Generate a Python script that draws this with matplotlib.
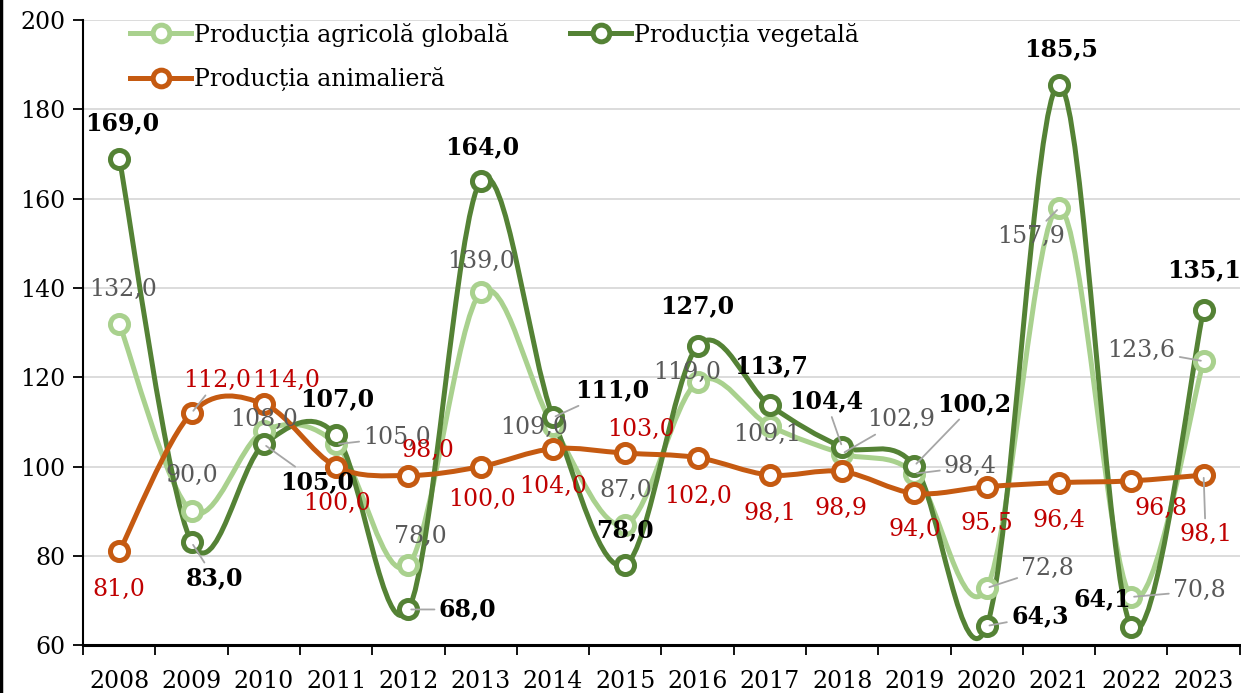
import numpy as np
import matplotlib
matplotlib.use('Agg')
import matplotlib.pyplot as plt
from matplotlib.path import Path
from matplotlib.patches import PathPatch
from matplotlib.lines import Line2D

plt.rcParams['font.family'] = ['DejaVu Serif']

ani = ['2008', '2009', '2010', '2011', '2012', '2013', '2014', '2015',
       '2016', '2017', '2018', '2019', '2020', '2021', '2022', '2023']
globala = [132.0, 90.0, 108.0, 105.0, 78.0, 139.0, 109.0, 87.0,
           119.0, 109.1, 102.9, 98.4, 72.8, 157.9, 70.8, 123.6]
vegetala = [169.0, 83.0, 105.0, 107.0, 68.0, 164.0, 111.0, 78.0,
            127.0, 113.7, 104.4, 100.2, 64.3, 185.5, 64.1, 135.1]
animaliera = [81.0, 112.0, 114.0, 100.0, 98.0, 100.0, 104.0, 103.0,
              102.0, 98.1, 98.9, 94.0, 95.5, 96.4, 96.8, 98.1]

# pozitiile etichetelor (pixeli fata de punct) si daca au linie de legatura
off_glob = [(4, 34), (0, 36), (0, 11), (61, 7), (12, 28), (0, 31), (-19, -1), (0, 34),
            (-10, 9), (-3, -9), (59, 34), (56, 7), (61, 20), (-28, -28), (68, 6), (-62, 11)]
lead_glob = [3, 10, 11, 12, 13, 14, 15]
off_veg = [(3, 35), (23, -36), (53, -38), (1, 36), (59, 0), (1, 34), (59, 27), (0, 35),
           (0, 40), (1, 39), (-16, 46), (60, 62), (53, 10), (2, 36), (-29, 28), (0, 40)]
lead_veg = [1, 2, 4, 6, 10, 11, 12]
off_anim = [(0, -38), (26, 33), (22, 24), (1, -37), (19, 25), (1, -33), (0, -38), (16, 24),
            (0, -39), (0, -38), (-1, -37), (0, -36), (0, -37), (0, -38), (30, -28), (2, -59)]
lead_anim = [1, 15]


def linie_neteda(ax, y, culoare, lw):
    # curba Bezier in stilul Excel (smooth line)
    x = np.arange(len(y), dtype=float)
    y = np.asarray(y, dtype=float)
    pts = np.column_stack([x, y])
    verts = [pts[0]]
    codes = [Path.MOVETO]
    n = len(pts)
    for i in range(n - 1):
        p0 = pts[i - 1] if i > 0 else pts[i]
        p1 = pts[i]
        p2 = pts[i + 1]
        p3 = pts[i + 2] if i + 2 < n else pts[i + 1]
        c1 = p1 + (p2 - p0) / 6
        c2 = p2 - (p3 - p1) / 6
        verts += [c1, c2, p2]
        codes += [Path.CURVE4] * 3
    patch = PathPatch(Path(verts, codes), facecolor='none', edgecolor=culoare,
                      lw=lw, capstyle='round', joinstyle='round', zorder=3)
    ax.add_patch(patch)


fig = plt.figure(figsize=(12.41, 6.93), dpi=100)
ax = fig.add_axes([0.067, 0.069, 0.932, 0.902])

serii = [
    (globala, '#A9D18E', off_glob, lead_glob, '#595959', 'normal', 'Producția agricolă globală'),
    (vegetala, '#548235', off_veg, lead_veg, 'black', 'bold', 'Producția vegetală'),
    (animaliera, '#C55A11', off_anim, lead_anim, '#C00000', 'normal', 'Producția animalieră'),
]

x = np.arange(len(ani))
handles = []
for valori, culoare, offs, leads, cul_text, greutate, nume in serii:
    linie_neteda(ax, valori, culoare, 3.6)
    ax.plot(x, valori, linestyle='none', marker='o', markersize=13,
            markerfacecolor='white', markeredgecolor=culoare, markeredgewidth=3.6, zorder=4)
    handles.append(Line2D([0], [0], color=culoare, lw=3.6, marker='o', markersize=12,
                          markerfacecolor='white', markeredgecolor=culoare,
                          markeredgewidth=3.6, label=nume))
    for i, v in enumerate(valori):
        eticheta = f'{v:.1f}'.replace('.', ',')
        kw = {}
        if i in leads:
            kw['arrowprops'] = dict(arrowstyle='-', color='#A6A6A6', lw=1.3,
                                    shrinkA=1, shrinkB=2)
        ax.annotate(eticheta, (i, v), xytext=offs[i], textcoords='offset pixels',
                    ha='center', va='center', fontsize=17, color=cul_text,
                    fontweight=greutate, zorder=6, **kw)

ax.set_xlim(-0.5, len(ani) - 0.5)
ax.set_ylim(60, 200)
ax.set_yticks(np.arange(60, 201, 20))
ax.set_xticks(np.arange(-0.5, len(ani), 1.0))
ax.set_xticklabels([])
ax.set_xticks(x, minor=True)
ax.set_xticklabels(ani, minor=True)
ax.tick_params(axis='x', which='major', length=7, width=1.3, direction='out')
ax.tick_params(axis='x', which='minor', length=0, pad=18, labelsize=17)
ax.tick_params(axis='y', length=7, width=1.3, direction='out', labelsize=17, pad=6)

ax.grid(axis='y', color='#D9D9D9', lw=1.3)
ax.set_axisbelow(True)
for s in ['top', 'right']:
    ax.spines[s].set_visible(False)
ax.spines['left'].set_linewidth(1.5)
ax.spines['bottom'].set_linewidth(2.2)

leg = ax.legend(handles=[handles[0], handles[2], handles[1]], ncol=2, loc='upper left',
                bbox_to_anchor=(0.022, 1.03), frameon=False, fontsize=17,
                handlelength=2.6, columnspacing=2.6, labelspacing=0.85, handletextpad=0.1)

fig.add_artist(Line2D([0.0012, 0.0012], [0, 1], lw=2.5, color='black',
                      transform=fig.transFigure))

fig.savefig('out.png', dpi=100)
